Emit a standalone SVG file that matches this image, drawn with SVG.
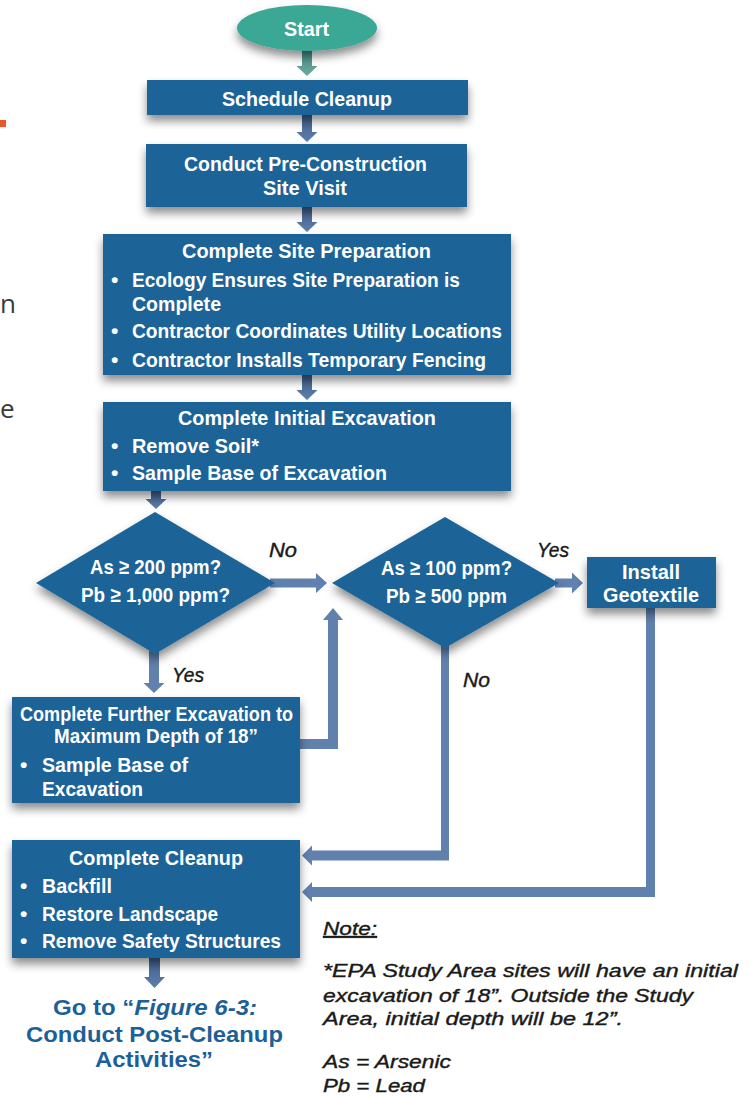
<svg xmlns="http://www.w3.org/2000/svg" width="750" height="1097" viewBox="0 0 750 1097">
<style>
.box{fill:#1b6398;}
.wt{fill:#ffffff;font-family:"Liberation Sans",Arial,sans-serif;font-weight:bold;font-size:21px;}
.lbl{fill:#1a1a1a;stroke:#1a1a1a;stroke-width:0.4px;font-family:"Liberation Sans",Arial,sans-serif;font-style:italic;font-size:20px;}
.note{fill:#1a1a1a;stroke:#1a1a1a;stroke-width:0.4px;font-family:"Liberation Sans",Arial,sans-serif;font-style:italic;font-size:19px;}
.goto{fill:#1d5f98;font-family:"Liberation Sans",Arial,sans-serif;font-weight:bold;font-size:22px;}
.conA{fill:url(#gDark);}
.conB{fill:#6080ad;}
.frag{fill:#3a3a3a;font-family:"Open Sans",sans-serif;font-size:26px;}
</style>
<defs>
<filter id="sh" x="-20%" y="-20%" width="140%" height="160%">
<feDropShadow dx="0" dy="6" stdDeviation="5" flood-color="#000" flood-opacity="0.45"/>
</filter>
<linearGradient id="gDark" x1="0" y1="0" x2="0" y2="1">
<stop offset="0" stop-color="#3f5f8c"/>
<stop offset="1" stop-color="#5e7eab"/>
</linearGradient>
<linearGradient id="gTeal" x1="0" y1="0" x2="0" y2="1">
<stop offset="0" stop-color="#3f8a80"/>
<stop offset="1" stop-color="#6ea89f"/>
</linearGradient>
</defs>
<rect x="0" y="0" width="750" height="1097" fill="#ffffff"/>

<!-- page fragments at left edge -->
<rect x="0" y="120" width="6" height="7" fill="#e8562a"/>
<text class="frag" x="0" y="313">n</text>
<text class="frag" x="0" y="418">e</text>

<g id="connectors">
<polygon fill="url(#gTeal)" points="302,48 312,48 312,66 317.5,66 307,76 296.5,66 302,66"/>
<polygon class="conA" points="302,115 312,115 312,132 317.5,132 307,142 296.5,132 302,132"/>
<polygon class="conA" points="302,207 312,207 312,222 317.5,222 307,232 296.5,222 302,222"/>
<polygon class="conA" points="302,375 312,375 312,390 317.5,390 307,400 296.5,390 302,390"/>
<polygon class="conA" points="151,491 161,491 161,499 166.5,499 156,509 145.5,499 151,499"/>
<polygon class="conB" points="149,650 159,650 159,683 164.5,683 154,693 143.5,683 149,683"/>
<polygon class="conB" points="270,578.5 316,578.5 316,573 327,583 316,593 316,587.5 270,587.5"/>
<polygon class="conB" points="300,739 328,739 328,620 323,620 333,608 343,620 338,620 338,749 300,749"/>
<polygon class="conB" points="555,578.5 572,578.5 572,572.5 583,583 572,593.5 572,587.5 555,587.5"/>
<polygon class="conB" points="441,640 449,640 449,860.5 312,860.5 312,865.5 302,855.5 312,845.5 312,850.5 441,850.5"/>
<polygon class="conB" points="646,604 655,604 655,897 312,897 312,902 302,892 312,882 312,887 646,887"/>
<polygon class="conA" points="149,958 160,958 160,977 165,977 154.5,988 144,977 149,977"/>
</g>

<g id="start">
<ellipse cx="307" cy="28" rx="70" ry="23" fill="#3aa795" filter="url(#sh)"/>
<text class="wt" x="284" y="36" textLength="45" lengthAdjust="spacingAndGlyphs">Start</text>
</g>

<g id="schedule">
<rect class="box" x="147" y="80" width="321" height="35" filter="url(#sh)"/>
<text class="wt" x="222" y="106" font-size="22" textLength="170" lengthAdjust="spacingAndGlyphs">Schedule Cleanup</text>
</g>

<g id="previsit">
<rect class="box" x="146" y="144" width="321" height="63" filter="url(#sh)"/>
<text class="wt" x="184" y="171" font-size="22" textLength="243" lengthAdjust="spacingAndGlyphs">Conduct Pre-Construction</text>
<text class="wt" x="263" y="195" font-size="22" textLength="84" lengthAdjust="spacingAndGlyphs">Site Visit</text>
</g>

<g id="siteprep">
<rect class="box" x="103" y="234" width="408" height="141" filter="url(#sh)"/>
<text class="wt" x="182" y="258" textLength="249" lengthAdjust="spacingAndGlyphs">Complete Site Preparation</text>
<text class="wt" x="111" y="287">•</text>
<text class="wt" x="132" y="287" textLength="328" lengthAdjust="spacingAndGlyphs">Ecology Ensures Site Preparation is</text>
<text class="wt" x="132" y="311" textLength="89" lengthAdjust="spacingAndGlyphs">Complete</text>
<text class="wt" x="111" y="338">•</text>
<text class="wt" x="132" y="338" textLength="370" lengthAdjust="spacingAndGlyphs">Contractor Coordinates Utility Locations</text>
<text class="wt" x="111" y="367">•</text>
<text class="wt" x="132" y="367" textLength="354" lengthAdjust="spacingAndGlyphs">Contractor Installs Temporary Fencing</text>
</g>

<g id="initial">
<rect class="box" x="103" y="402" width="408" height="89" filter="url(#sh)"/>
<text class="wt" x="178" y="425" textLength="258" lengthAdjust="spacingAndGlyphs">Complete Initial Excavation</text>
<text class="wt" x="111" y="453">•</text>
<text class="wt" x="132" y="453" textLength="127" lengthAdjust="spacingAndGlyphs">Remove Soil*</text>
<text class="wt" x="111" y="480">•</text>
<text class="wt" x="132" y="480" textLength="255" lengthAdjust="spacingAndGlyphs">Sample Base of Excavation</text>
</g>

<g id="decision1">
<polygon class="box" points="36,583 155,512 275,583 155,654" filter="url(#sh)"/>
<text class="wt" x="90" y="574" textLength="131" lengthAdjust="spacingAndGlyphs">As ≥ 200 ppm?</text>
<text class="wt" x="81" y="602" textLength="149" lengthAdjust="spacingAndGlyphs">Pb ≥ 1,000 ppm?</text>
</g>

<g id="decision2">
<polygon class="box" points="332,583 445,517 559,583 445,648" filter="url(#sh)"/>
<text class="wt" x="381" y="575" textLength="131" lengthAdjust="spacingAndGlyphs">As ≥ 100 ppm?</text>
<text class="wt" x="386" y="603" textLength="121" lengthAdjust="spacingAndGlyphs">Pb ≥ 500 ppm</text>
</g>

<g id="geotextile">
<rect class="box" x="587" y="557" width="129" height="51" filter="url(#sh)"/>
<text class="wt" x="622" y="579" textLength="58" lengthAdjust="spacingAndGlyphs">Install</text>
<text class="wt" x="603" y="602" textLength="96" lengthAdjust="spacingAndGlyphs">Geotextile</text>
</g>

<g id="further">
<rect class="box" x="12" y="697" width="288" height="106" filter="url(#sh)"/>
<text class="wt" x="20" y="721" textLength="273" lengthAdjust="spacingAndGlyphs">Complete Further Excavation to</text>
<text class="wt" x="54" y="743" textLength="204" lengthAdjust="spacingAndGlyphs">Maximum Depth of 18”</text>
<text class="wt" x="20" y="772">•</text>
<text class="wt" x="42" y="772" textLength="146" lengthAdjust="spacingAndGlyphs">Sample Base of</text>
<text class="wt" x="42" y="796" textLength="101" lengthAdjust="spacingAndGlyphs">Excavation</text>
</g>

<g id="cleanup">
<rect class="box" x="12" y="840" width="288" height="118" filter="url(#sh)"/>
<text class="wt" x="69" y="865" textLength="174" lengthAdjust="spacingAndGlyphs">Complete Cleanup</text>
<text class="wt" x="20" y="893">•</text>
<text class="wt" x="42" y="893" textLength="70" lengthAdjust="spacingAndGlyphs">Backfill</text>
<text class="wt" x="20" y="921">•</text>
<text class="wt" x="42" y="921" textLength="176" lengthAdjust="spacingAndGlyphs">Restore Landscape</text>
<text class="wt" x="20" y="948">•</text>
<text class="wt" x="42" y="948" textLength="239" lengthAdjust="spacingAndGlyphs">Remove Safety Structures</text>
</g>

<g id="labels">
<text class="lbl" x="269" y="557" textLength="28" lengthAdjust="spacingAndGlyphs">No</text>
<text class="lbl" x="172" y="682" textLength="32" lengthAdjust="spacingAndGlyphs">Yes</text>
<text class="lbl" x="537" y="557" textLength="32" lengthAdjust="spacingAndGlyphs">Yes</text>
<text class="lbl" x="463" y="687" textLength="27" lengthAdjust="spacingAndGlyphs">No</text>
</g>

<g id="goto">
<text class="goto" x="53" y="1015" textLength="204" lengthAdjust="spacingAndGlyphs">Go to “<tspan font-style="italic">Figure 6-3:</tspan></text>
<text class="goto" x="26" y="1042" textLength="257" lengthAdjust="spacingAndGlyphs">Conduct Post-Cleanup</text>
<text class="goto" x="95" y="1067" textLength="118" lengthAdjust="spacingAndGlyphs">Activities”</text>
</g>

<g id="note">
<text class="note" x="323" y="935" text-decoration="underline" textLength="54" lengthAdjust="spacingAndGlyphs">Note:</text>
<text class="note" x="323" y="977" textLength="415" lengthAdjust="spacingAndGlyphs">*EPA Study Area sites will have an initial</text>
<text class="note" x="323" y="1002" textLength="370" lengthAdjust="spacingAndGlyphs">excavation of 18”. Outside the Study</text>
<text class="note" x="323" y="1025" textLength="300" lengthAdjust="spacingAndGlyphs">Area, initial depth will be 12”.</text>
<text class="note" x="323" y="1068" textLength="128" lengthAdjust="spacingAndGlyphs">As = Arsenic</text>
<text class="note" x="323" y="1092" textLength="102" lengthAdjust="spacingAndGlyphs">Pb = Lead</text>
</g>
</svg>
